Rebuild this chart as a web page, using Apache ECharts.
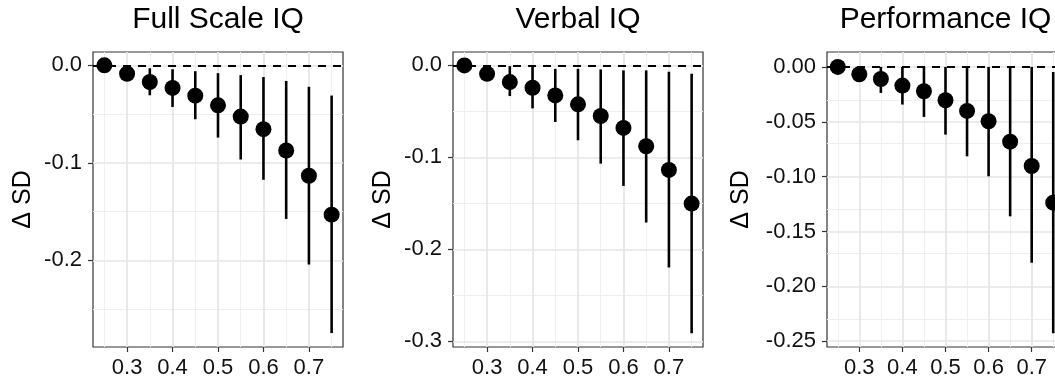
<!DOCTYPE html>
<html>
<head>
<meta charset="utf-8">
<title>Change in SD by threshold</title>
<script src="https://cdn.jsdelivr.net/npm/echarts@6/dist/echarts.min.js"></script>
<style>
  html, body { margin: 0; padding: 0; background: #fff; }
  #chart { width: 1055px; height: 384px; }
</style>
</head>
<body>
<div id="chart"></div>
<script>
// x positions shared by all three panels
const thresholds = [0.25, 0.3, 0.35, 0.4, 0.45, 0.5, 0.55, 0.6, 0.65, 0.7, 0.75];

const panelTitles = ["Full Scale IQ", "Verbal IQ", "Performance IQ"];

// Full Scale IQ
const fsiqMean  = [0, -0.0086, -0.0171, -0.0232, -0.0311, -0.0410, -0.0526, -0.0655, -0.0874, -0.1133, -0.1532];
const fsiqUpper = [0, -0.004, -0.003, -0.004, -0.006, -0.008, -0.010, -0.012, -0.016, -0.022, -0.031];
const fsiqLower = [0, -0.013, -0.0307, -0.0427, -0.0553, -0.0741, -0.0966, -0.1174, -0.1576, -0.2044, -0.2747];

// Verbal IQ
const viqMean  = [0, -0.0091, -0.0181, -0.0243, -0.0326, -0.0423, -0.0550, -0.0680, -0.0879, -0.1136, -0.1502];
const viqUpper = [0, -0.004, -0.0008, -0.001, -0.0037, -0.0037, -0.0043, -0.0054, -0.0054, -0.0069, -0.0091];
const viqLower = [0, -0.014, -0.0333, -0.0467, -0.0615, -0.0814, -0.1068, -0.1310, -0.1708, -0.2197, -0.2913];

// Performance IQ
const piqMean  = [0, -0.0067, -0.0110, -0.0170, -0.0222, -0.0304, -0.0401, -0.0495, -0.0681, -0.0903, -0.1237];
const piqUpper = [0, -0.002, 0, 0, 0, 0, 0, 0, 0, 0, -0.0046];
const piqLower = [0, -0.012, -0.0237, -0.0343, -0.0456, -0.0617, -0.0815, -0.0997, -0.1362, -0.1785, -0.2427];

// axis breaks
const xTicks = [0.3, 0.4, 0.5, 0.6, 0.7];
const xMinor = [0.25, 0.35, 0.45, 0.55, 0.65, 0.75];
const fsiqTicks = [0, -0.1, -0.2];
const fsiqMinor = [-0.05, -0.15, -0.25];
const viqTicks = [0, -0.1, -0.2, -0.3];
const viqMinor = [-0.05, -0.15, -0.25];
const piqTicks = [0, -0.05, -0.1, -0.15, -0.2, -0.25];
const piqMinor = [-0.025, -0.075, -0.125, -0.175, -0.225];

const panels = [
  { title: panelTitles[0], mean: fsiqMean, upper: fsiqUpper, lower: fsiqLower, yTicks: fsiqTicks, yMinor: fsiqMinor },
  { title: panelTitles[1], mean: viqMean, upper: viqUpper, lower: viqLower, yTicks: viqTicks, yMinor: viqMinor },
  { title: panelTitles[2], mean: piqMean, upper: piqUpper, lower: piqLower, yTicks: piqTicks, yMinor: piqMinor },
];

// plot box placement per panel (the last one runs past the right edge, as in the source)
const layout = [
  { left: 93, width: 250, yMin: -0.289, yMax: 0.0137, digits: 1, nameGap: 57 },
  { left: 453, width: 250, yMin: -0.3062, yMax: 0.0146, digits: 1, nameGap: 57 },
  { left: 827, width: 237, yMin: -0.2553, yMax: 0.0136, digits: 2, nameGap: 73 },
];

const FONT = '"Liberation Sans", Arial, sans-serif';
const GRID_TOP = 52;
const GRID_H = 295;

const majorGrid = { color: "#e6e6e6", width: 1.7, type: "solid" };
const minorGrid = { color: "#efefef", width: 1, type: "solid" };

const chart = echarts.init(document.getElementById("chart"), null, { renderer: "canvas" });

const grid = [], xAxis = [], yAxis = [], series = [], title = [];

panels.forEach((p, i) => {
  const L = layout[i];

  title.push({
    text: p.title,
    left: L.left + L.width / 2,
    top: 5,
    padding: 0,
    textAlign: "center",
    textStyle: { fontSize: 30, fontWeight: "normal", color: "#000", fontFamily: FONT },
  });

  grid.push({
    left: L.left,
    top: GRID_TOP,
    width: L.width,
    height: GRID_H,
    show: true,
    backgroundColor: "#fff",
    borderColor: "#333",
    borderWidth: 1.2,
    outerBoundsMode: "none",
    containLabel: false,
  });

  xAxis.push({
    gridIndex: i,
    type: "value",
    min: 0.225,
    max: 0.775,
    axisLine: { show: false, onZero: false },
    axisTick: { show: true, length: 5, lineStyle: { color: "#333", width: 1.2 }, customValues: xTicks },
    axisLabel: {
      customValues: xTicks,
      formatter: (v) => v.toFixed(1),
      margin: 10,
      fontSize: 22,
      color: "#111",
      fontFamily: FONT,
    },
    splitLine: { show: false },
  });

  yAxis.push({
    gridIndex: i,
    type: "value",
    min: L.yMin,
    max: L.yMax,
    name: "Δ SD",
    nameLocation: "middle",
    nameGap: L.nameGap,
    nameTextStyle: { fontSize: 25, color: "#000", fontFamily: FONT },
    axisLine: { show: false, onZero: false },
    axisTick: { show: true, length: 5, lineStyle: { color: "#333", width: 1.2 }, customValues: p.yTicks },
    axisLabel: {
      customValues: p.yTicks,
      formatter: (v) => v.toFixed(L.digits),
      margin: 11,
      fontSize: 22,
      color: "#111",
      fontFamily: FONT,
    },
    splitLine: { show: false },
  });

  // background grid lines, drawn through the axes
  const gridLines = []
    .concat(xMinor.map((v) => ({ xAxis: v, lineStyle: minorGrid })))
    .concat(p.yMinor.map((v) => ({ yAxis: v, lineStyle: minorGrid })))
    .concat(xTicks.map((v) => ({ xAxis: v, lineStyle: majorGrid })))
    .concat(p.yTicks.map((v) => ({ yAxis: v, lineStyle: majorGrid })));

  series.push({
    type: "line",
    xAxisIndex: i,
    yAxisIndex: i,
    data: [],
    z: 1,
    silent: true,
    markLine: {
      z: 1,
      silent: true,
      symbol: ["none", "none"],
      label: { show: false },
      emphasis: { disabled: true },
      data: gridLines,
    },
  });

  // dashed reference line at zero
  series.push({
    type: "line",
    xAxisIndex: i,
    yAxisIndex: i,
    data: [],
    z: 2,
    silent: true,
    markLine: {
      z: 2,
      silent: true,
      symbol: ["none", "none"],
      label: { show: false },
      emphasis: { disabled: true },
      lineStyle: { color: "#000", width: 1.8, type: [8, 7] },
      data: [{ yAxis: 0 }],
    },
  });

  // error bars
  series.push({
    type: "custom",
    xAxisIndex: i,
    yAxisIndex: i,
    z: 3,
    silent: true,
    encode: { x: 0, y: [1, 2] },
    data: thresholds.map((x, k) => [x, p.lower[k], p.upper[k]]),
    renderItem: (params, api) => {
      const lo = api.coord([api.value(0), api.value(1)]);
      const hi = api.coord([api.value(0), api.value(2)]);
      return {
        type: "line",
        shape: { x1: lo[0], y1: lo[1], x2: hi[0], y2: hi[1] },
        style: { stroke: "#000", lineWidth: 2.6 },
      };
    },
  });

  // point estimates
  series.push({
    type: "scatter",
    xAxisIndex: i,
    yAxisIndex: i,
    z: 4,
    symbol: "circle",
    symbolSize: 16,
    itemStyle: { color: "#000", opacity: 1 },
    data: thresholds.map((x, k) => [x, p.mean[k]]),
  });
});

chart.setOption({
  animation: false,
  backgroundColor: "#fff",
  tooltip: { show: false },
  title,
  grid,
  xAxis,
  yAxis,
  series,
});
</script>
</body>
</html>
